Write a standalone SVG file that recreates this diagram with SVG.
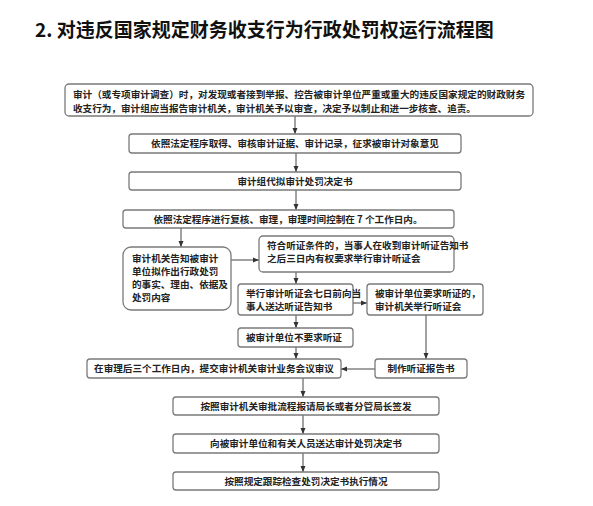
<svg xmlns="http://www.w3.org/2000/svg" width="593" height="506" viewBox="0 0 593 506">
<style>
.bx{fill:#fff;stroke:#7a7a7a;stroke-width:1.3}
.t{font-family:"Noto Sans CJK SC","Noto Sans CJK JP",sans-serif;font-size:9.6px;fill:#222;font-weight:bold}
.c{text-anchor:middle}
.ln{stroke:#444;stroke-width:1;fill:none;marker-end:url(#ah)}
.title{font-family:"Noto Sans CJK SC",sans-serif;font-size:19px;font-weight:bold;fill:#111}
</style>
<defs>
<marker id="ah" viewBox="0 0 6 6" refX="6" refY="3" markerWidth="6" markerHeight="6" markerUnits="userSpaceOnUse" orient="auto">
<path d="M0,0.5 L6,3 L0,5.5 Z" fill="#333"/>
</marker>
</defs>
<rect width="593" height="506" fill="#fff"/>
<text class="title" x="35" y="37">2. 对违反国家规定财务收支行为行政处罚权运行流程图</text>

<g id="connectors">
<line class="ln" x1="295" y1="116" x2="295" y2="134"/>
<line class="ln" x1="296" y1="153" x2="296" y2="172"/>
<line class="ln" x1="296" y1="190" x2="296" y2="210"/>
<line class="ln" x1="181" y1="228" x2="181" y2="247"/>
<line class="ln" x1="231" y1="260" x2="259" y2="260"/>
<line class="ln" x1="296" y1="272" x2="296" y2="284"/>
<line class="ln" x1="353" y1="303" x2="367" y2="303"/>
<line class="ln" x1="296" y1="315" x2="296" y2="328"/>
<line class="ln" x1="296" y1="347" x2="296" y2="359"/>
<line class="ln" x1="426" y1="315" x2="426" y2="359"/>
<line class="ln" x1="375" y1="369" x2="341" y2="369"/>
<line class="ln" x1="303" y1="378" x2="303" y2="397"/>
<line class="ln" x1="303" y1="415" x2="303" y2="434"/>
<line class="ln" x1="303" y1="453" x2="303" y2="472"/>
</g>

<g id="n1">
<rect class="bx" x="65" y="84" width="468" height="32" rx="4"/>
<text class="t" x="73" y="98.3" textLength="452" lengthAdjust="spacingAndGlyphs">审计（或专项审计调查）时，对发现或者接到举报、控告被审计单位严重或重大的违反国家规定的财政财务</text>
<text class="t" x="73" y="111.5">收支行为，审计组应当报告审计机关，审计机关予以审查，决定予以制止和进一步核查、追责。</text>
</g>
<g id="n2">
<rect class="bx" x="129" y="134" width="332" height="19" rx="3"/>
<text class="t c" x="295" y="147.3">依照法定程序取得、审核审计证据、审计记录，征求被审计对象意见</text>
</g>
<g id="n3">
<rect class="bx" x="129" y="172" width="332" height="18" rx="3"/>
<text class="t c" x="295" y="184.5">审计组代拟审计处罚决定书</text>
</g>
<g id="n4">
<rect class="bx" x="123" y="210" width="331" height="18" rx="3"/>
<text class="t c" x="288" y="222.8">依照法定程序进行复核、审理，审理时间控制在 7 个工作日内。</text>
</g>
<g id="n5">
<rect class="bx" x="123" y="247" width="108" height="63" rx="8"/>
<text class="t" x="132" y="262" font-size="10.3">审计机关告知被审计</text>
<text class="t" x="132" y="275" font-size="10.3">单位拟作出行政处罚</text>
<text class="t" x="132" y="288" font-size="10.3">的事实、理由、依据及</text>
<text class="t" x="132" y="301" font-size="10.3">处罚内容</text>
</g>
<g id="n6">
<rect class="bx" x="259" y="236" width="195" height="36" rx="4"/>
<text class="t" x="267" y="248.5" font-size="8.6">符合听证条件的，当事人在收到审计听证告知书</text>
<text class="t" x="267" y="261.5" font-size="8.6">之后三日内有权要求举行审计听证会</text>
</g>
<g id="n7">
<rect class="bx" x="238" y="284" width="115" height="31" rx="3"/>
<text class="t" x="246" y="297" font-size="8.4">举行审计听证会七日前向当</text>
<text class="t" x="246" y="310" font-size="8.4">事人送达听证告知书</text>
</g>
<g id="n8">
<rect class="bx" x="367" y="284" width="116" height="31" rx="3"/>
<text class="t" x="375" y="297" font-size="9.1">被审计单位要求听证的，</text>
<text class="t" x="375" y="310" font-size="9.1">审计机关举行听证会</text>
</g>
<g id="n9">
<rect class="bx" x="238" y="328" width="115" height="19" rx="3"/>
<text class="t" x="246" y="341.3" font-size="9.4">被审计单位不要求听证</text>
</g>
<g id="n10">
<rect class="bx" x="87" y="359" width="254" height="19" rx="3"/>
<text class="t c" x="214" y="372.3">在审理后三个工作日内，提交审计机关审计业务会议审议</text>
</g>
<g id="n11">
<rect class="bx" x="375" y="359" width="92" height="19" rx="3"/>
<text class="t c" x="421" y="372.3">制作听证报告书</text>
</g>
<g id="n12">
<rect class="bx" x="173" y="397" width="266" height="18" rx="3"/>
<text class="t c" x="306" y="409.8">按照审计机关审批流程报请局长或者分管局长签发</text>
</g>
<g id="n13">
<rect class="bx" x="173" y="434" width="266" height="19" rx="3"/>
<text class="t c" x="306" y="447.3">向被审计单位和有关人员送达审计处罚决定书</text>
</g>
<g id="n14">
<rect class="bx" x="173" y="472" width="266" height="18" rx="3"/>
<text class="t c" x="306" y="484.8">按照规定跟踪检查处罚决定书执行情况</text>
</g>
</svg>
